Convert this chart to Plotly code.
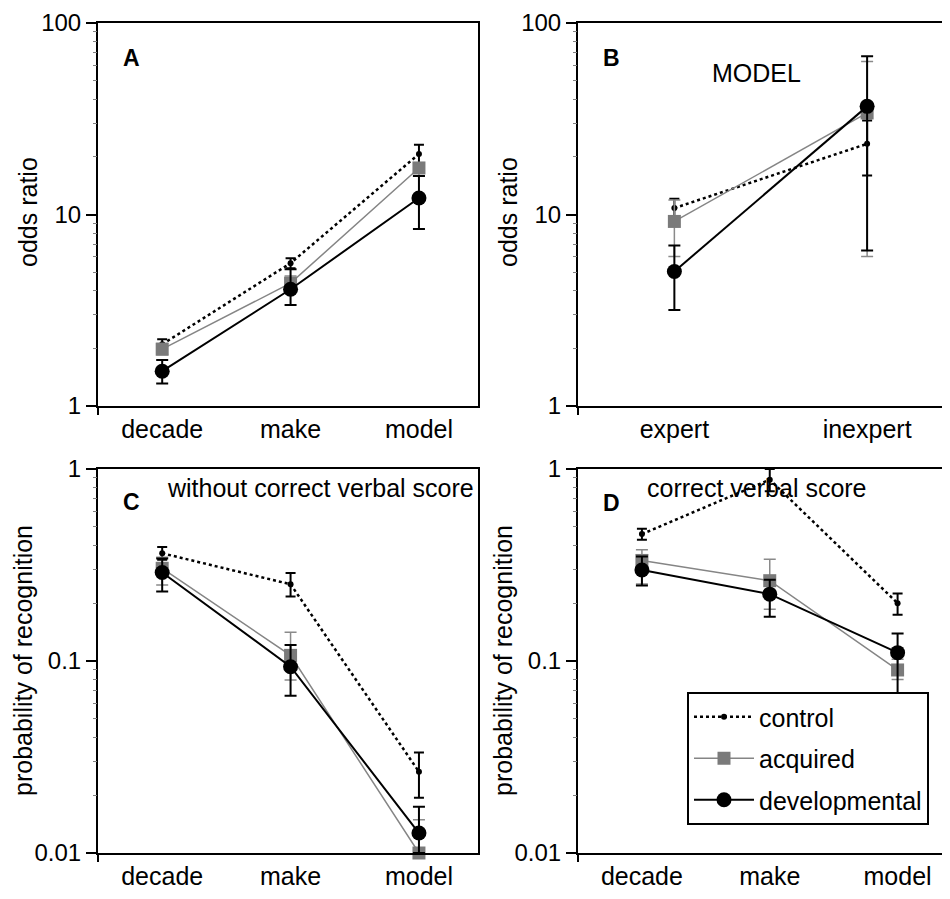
import plotly.graph_objects as go

groups = ["control", "acquired", "developmental"]
cats_recog = ["decade", "make", "model"]
cats_expert = ["expert", "inexpert"]

# Panel A: odds ratio
A_mean = {"control": [2.10, 5.57, 20.7], "acquired": [1.98, 4.38, 17.5], "developmental": [1.52, 4.07, 12.2]}
A_upper = {"control": [2.23, 5.91, 23.1], "acquired": [2.12, 4.78, 18.4], "developmental": [1.74, 5.18, 15.9]}
A_lower = {"control": [1.98, 5.24, 18.5], "acquired": [1.85, 3.95, 15.9], "developmental": [1.31, 3.37, 8.41]}

# Panel B: odds ratio, MODEL
B_mean = {"control": [10.8, 23.4], "acquired": [9.2, 33.9], "developmental": [5.04, 36.7]}
B_upper = {"control": [12.1, 31.0], "acquired": [11.9, 63.0], "developmental": [6.89, 67.0]}
B_lower = {"control": [9.6, 16.0], "acquired": [6.03, 6.03], "developmental": [3.17, 6.49]}

# Panel C: probability of recognition, without correct verbal score
C_mean = {"control": [0.364, 0.251, 0.0265], "acquired": [0.304, 0.107, 0.0100], "developmental": [0.289, 0.0934, 0.0127]}
C_upper = {"control": [0.392, 0.287, 0.0334], "acquired": [0.347, 0.141, 0.0149], "developmental": [0.342, 0.121, 0.0174]}
C_lower = {"control": [0.337, 0.217, 0.0194], "acquired": [0.249, 0.0796, 0.005], "developmental": [0.230, 0.0659, 0.0100]}

# Panel D: probability of recognition, correct verbal score
D_mean = {"control": [0.458, 0.88, 0.200], "acquired": [0.334, 0.262, 0.0898], "developmental": [0.298, 0.223, 0.1105]}
D_upper = {"control": [0.488, 1.0, 0.225], "acquired": [0.38, 0.339, 0.102], "developmental": [0.35, 0.265, 0.139]}
D_lower = {"control": [0.428, 0.765, 0.174], "acquired": [0.252, 0.186, 0.080], "developmental": [0.247, 0.170, 0.068]}

odds_ticks = [1, 10, 100]
odds_ticktext = ["1", "10", "100"]
prob_ticks = [0.01, 0.1, 1]
prob_ticktext = ["0.01", "0.1", "1"]
odds_minor = [m * d for d in (1, 10) for m in range(2, 10)]
prob_minor = [m * d for d in (0.01, 0.1) for m in range(2, 10)]

FONT = "Liberation Sans, Arial, Helvetica, sans-serif"

styles = {
    "control": dict(line=dict(color="black", width=2.5, dash="dot"),
                    marker=dict(color="black", size=6, symbol="circle"), ecolor="black", ew=2, cw=5),
    "acquired": dict(line=dict(color="#858585", width=1.5),
                     marker=dict(color="#7a7a7a", size=13, symbol="square"), ecolor="#8a8a8a", ew=1.5, cw=6),
    "developmental": dict(line=dict(color="black", width=2),
                          marker=dict(color="black", size=15, symbol="circle"), ecolor="black", ew=2, cw=6),
}

fig = go.Figure()

panels = [
    ("x", "y", cats_recog, A_mean, A_upper, A_lower, False),
    ("x2", "y2", cats_expert, B_mean, B_upper, B_lower, False),
    ("x3", "y3", cats_recog, C_mean, C_upper, C_lower, False),
    ("x4", "y4", cats_recog, D_mean, D_upper, D_lower, True),
]

for xa, ya, cats, mean, up, lo, show in panels:
    for g in groups:
        st = styles[g]
        m = mean[g]
        fig.add_trace(go.Scatter(
            x=cats, y=m, xaxis=xa, yaxis=ya, name=g, mode="lines+markers",
            line=st["line"], marker=st["marker"], cliponaxis=False,
            showlegend=show, legendgroup=g,
            error_y=dict(type="data", symmetric=False,
                         array=[u - v for u, v in zip(up[g], m)],
                         arrayminus=[v - l for v, l in zip(m, lo[g])],
                         color=st["ecolor"], thickness=st["ew"], width=st["cw"]),
        ))

# page is offset by the 8px body margin; work in screen coordinates
OFF = 8
W = 950 - OFF
H = 899 - OFF

def px_x(sx):
    return (sx - OFF) / W

def px_y(sy):
    return (H - (sy - OFF)) / H

xdomL = [px_x(98), px_x(478)]
xdomR = [px_x(578), 1.0]
ydomT = [px_y(406), px_y(23)]
ydomB = [px_y(853), px_y(469)]

def xaxis(domain, rng, anchor):
    return dict(domain=domain, anchor=anchor, type="category", range=rng,
                showline=True, linewidth=2, linecolor="black", mirror=True,
                ticks="", showgrid=False, zeroline=False, automargin=False,
                tickfont=dict(size=25, color="black", family=FONT))

def yaxis(domain, rng, anchor, tv, tt, mirror):
    return dict(domain=domain, anchor=anchor, type="log", range=rng,
                showline=True, linewidth=2, linecolor="black", mirror=mirror,
                tickvals=tv, ticktext=tt, ticks="outside", ticklen=10, tickwidth=2,
                tickcolor="black", showgrid=False, zeroline=False, automargin=False,
                tickfont=dict(size=24, color="black", family=FONT))

# overlay axes for the minor log ticks and the corner tick below each panel
def minor_y(over, anchor, rng, minor):
    return dict(overlaying=over, anchor=anchor, type="log", range=rng, side="left",
                tickvals=minor, showticklabels=False, ticks="outside", ticklen=4,
                tickwidth=1, tickcolor="#808080", showline=False, showgrid=False,
                zeroline=False, automargin=False)

def corner_x(over, anchor, rng):
    return dict(overlaying=over, anchor=anchor, type="linear", range=rng, side="bottom",
                tickvals=[rng[0]], showticklabels=False, ticks="outside", ticklen=8,
                tickwidth=2, tickcolor="black", showline=False, showgrid=False,
                zeroline=False, automargin=False)

rngs_x = {"x": [-0.5, 2.46], "x2": [-0.5, 1.43], "x3": [-0.5, 2.46], "x4": [-0.5, 2.41]}
rngs_y = {"y": [0, 2], "y2": [0, 2], "y3": [-2, 0], "y4": [-2, 0]}
minors = {"y": odds_minor, "y2": odds_minor, "y3": prob_minor, "y4": prob_minor}

extra = {}
for i, (xa, ya) in enumerate([("x", "y"), ("x2", "y2"), ("x3", "y3"), ("x4", "y4")]):
    k = 5 + i
    extra["yaxis%d" % k] = minor_y(ya, xa, rngs_y[ya], minors[ya])
    extra["xaxis%d" % k] = corner_x(xa, ya, rngs_x[xa])
    fig.add_trace(go.Scatter(x=[], y=[], xaxis=xa, yaxis="y%d" % k, showlegend=False, hoverinfo="skip"))
    fig.add_trace(go.Scatter(x=[], y=[], xaxis="x%d" % k, yaxis=ya, showlegend=False, hoverinfo="skip"))

fig.update_layout(
    width=W, height=H,
    margin=dict(l=0, r=0, t=0, b=0, pad=0),
    paper_bgcolor="white", plot_bgcolor="white",
    font=dict(family=FONT, color="black", size=25),
    xaxis=xaxis(xdomL, rngs_x["x"], "y"),
    yaxis=yaxis(ydomT, rngs_y["y"], "x", odds_ticks, odds_ticktext, True),
    xaxis2=xaxis(xdomR, rngs_x["x2"], "y2"),
    yaxis2=yaxis(ydomT, rngs_y["y2"], "x2", odds_ticks, odds_ticktext, False),
    xaxis3=xaxis(xdomL, rngs_x["x3"], "y3"),
    yaxis3=yaxis(ydomB, rngs_y["y3"], "x3", prob_ticks, prob_ticktext, True),
    xaxis4=xaxis(xdomR, rngs_x["x4"], "y4"),
    yaxis4=yaxis(ydomB, rngs_y["y4"], "x4", prob_ticks, prob_ticktext, False),
    legend=dict(x=px_x(687), y=px_y(692), xanchor="left", yanchor="top",
                bgcolor="white", bordercolor="black", borderwidth=2,
                font=dict(size=25, family=FONT, color="black"),
                itemwidth=60, traceorder="grouped", tracegroupgap=6),
    showlegend=True,
)
fig.update_layout(**extra)

def ann(x, y, text, size=25, bold=False, angle=0):
    fig.add_annotation(x=px_x(x), y=px_y(y), xref="paper", yref="paper",
                       text=("<b>%s</b>" % text) if bold else text, showarrow=False,
                       textangle=angle, xanchor="center", yanchor="middle",
                       font=dict(size=size, family=FONT, color="black"))

ann(131, 58, "A", 23, True)
ann(611, 58, "B", 23, True)
ann(131, 502, "C", 23, True)
ann(611, 503, "D", 23, True)
ann(756, 73, "MODEL")
ann(320, 488, "without correct verbal score")
ann(757, 488, "correct verbal score")
ann(28, 212, "odds ratio", angle=-90)
ann(508, 212, "odds ratio", angle=-90)
ann(23, 661, "probability of recognition", angle=-90)
ann(503, 661, "probability of recognition", angle=-90)

fig.write_html("out.html")
